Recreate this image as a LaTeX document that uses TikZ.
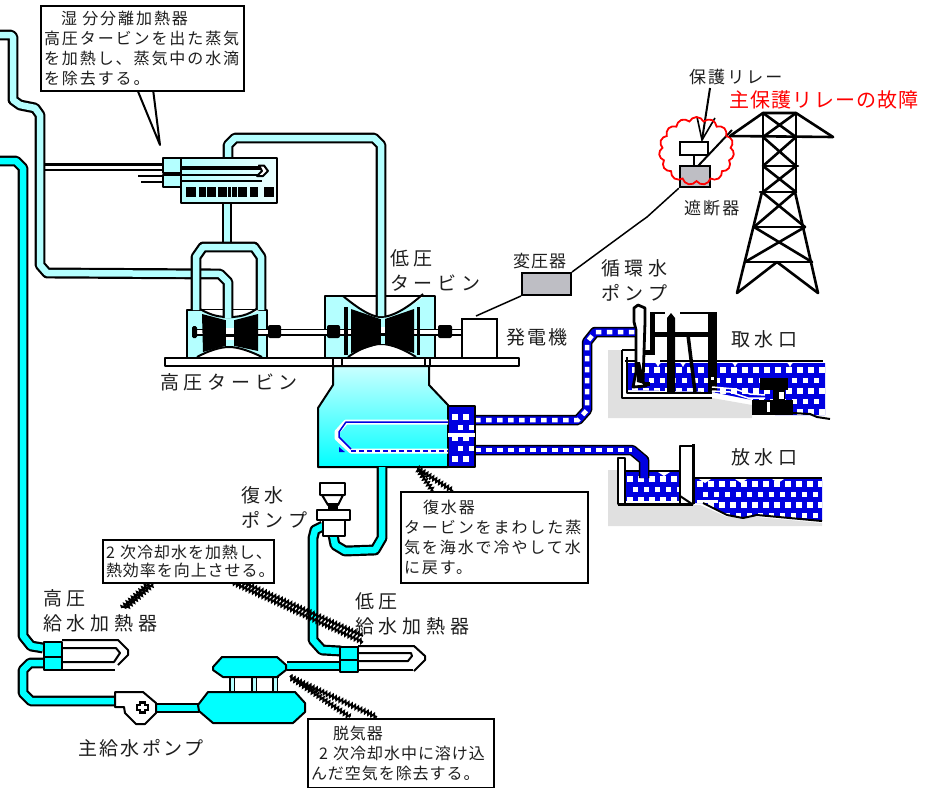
\documentclass[tikz,border=0pt]{standalone}
\usepackage{fontspec}
\usetikzlibrary{shapes.symbols,decorations.pathmorphing}
\newfontfamily\jpW[LetterSpace=25]{Noto Sans CJK JP}
\newfontfamily\jpM[LetterSpace=12]{Noto Sans CJK JP}
\newfontfamily\jpN[LetterSpace=6]{Noto Sans CJK JP}
\definecolor{lightc}{HTML}{B4FFFF}
\definecolor{cyanc}{HTML}{00FFFF}
\definecolor{seab}{HTML}{0000E0}
\definecolor{txtc}{HTML}{1E1E1E}
\definecolor{ground}{HTML}{E0E0E0}
\definecolor{grayb}{HTML}{BEBEC4}
\newcommand{\sqgrid}[4]{%
 \foreach \j in {0,...,#4}{\foreach \i in {0,...,#3}{%
  \pgfmathsetmacro\xx{#1+11*\i+5.5*mod(\j,2)}%
  \pgfmathsetmacro\yy{#2+10.5*\j}%
  \fill[white] (\xx,\yy) rectangle ++(5.5,5.5);}}}
\tikzset{
 x=1pt,y=-1pt,
 pipeL/.style={draw=black,line width=2.2,double=lightc,double distance=6.5,line join=round},
 pipeC/.style={draw=black,line width=2.2,double=cyanc,double distance=6.5,line join=round},
 thinL/.style={draw=black,line width=2.2,double=white,double distance=3,line join=round},
 seaO/.style={draw=black,line width=10.5,line join=round},
 seaI/.style={draw=seab,line width=7.5,line join=round},
 seaD/.style={draw=white,line width=4.5,dash pattern=on 5.5pt off 5.5pt},
 edge/.style={draw=black,line width=2,line join=round},
 thin2/.style={draw=black,line width=1.5},
 lblW/.style={inner sep=0,anchor=west,text=txtc,align=left,font=\jpW\fontsize{19}{25}\selectfont},
 lblM/.style={inner sep=0,anchor=west,text=txtc,align=left,font=\jpM\fontsize{19}{25}\selectfont},
 lblS/.style={inner sep=0,anchor=west,text=txtc,align=left,font=\jpM\fontsize{17}{20}\selectfont},
 callout/.style={draw=black,line width=2,fill=white,anchor=north west,inner xsep=3,inner ysep=5,align=left,text=txtc,font=\jpM\fontsize{16}{20}\selectfont},
 jag/.style={draw=black,line width=1.8,decorate,decoration={zigzag,segment length=3.5,amplitude=1.8}},
 blade/.style={fill=black},
}
\begin{document}
\begin{tikzpicture}
\useasboundingbox (0,0) rectangle (941,787);
%--- ground
\fill[ground] (608,350) -- (622,350) -- (622,398) -- (712,398) -- (752,405) -- (752,418) -- (608,418) -- cycle;
\fill[ground] (608,470) -- (620,470) -- (620,505) -- (700,505) -- (727,517) -- (757,517) -- (822,523) -- (822,526) -- (608,526) -- cycle;
%--- intake water
\begin{scope}
 \clip (628,363) -- (825,363) -- (825,415) -- (775,415) -- (752,400) -- (712,392) -- (628,390) -- cycle;
 \fill[seab] (620,355) rectangle (830,420);
 \sqgrid{632}{367}{18}{4}
\end{scope}
%--- outlet water
\begin{scope}
 \clip (625,471) -- (680,471) -- (680,500) -- (625,500) -- cycle;
 \fill[seab] (620,465) rectangle (685,505);
 \sqgrid{627}{476}{5}{2}
\end{scope}
\begin{scope}
 \clip (695,479) -- (822,479) -- (822,521) -- (757,515) -- (743,518) -- (727,515) -- (703,503) -- (695,503) -- cycle;
 \fill[seab] (690,475) rectangle (825,525);
 \sqgrid{697}{481}{12}{3}
\end{scope}
%--- intake structure
\draw[edge] (622,350) -- (645,350);
\draw[edge] (622,350) -- (622,398) -- (712,398);
\draw[edge] (627,357) -- (627,393) -- (712,393);
\draw[edge] (625,361) -- (645,361) (660,361) -- (823,361);
\foreach \w in {658,683,735,790}{\fill[white] (\w-6,362) .. controls (\w-2,363) .. (\w,367) .. controls (\w+2,363) .. (\w+6,362) -- cycle;}
\draw[edge,line width=2.8,fill=white] (634,308) -- (638,305) -- (645,308) -- (645,322) -- (643,382) -- (646,386) -- (633,387) -- (636,372) -- (636,330) -- (634,322) -- cycle;
\fill[black] (636,362) -- (640,362) -- (645,384) -- (637,382) -- cycle;
\fill[black] (644,382) rectangle (650,386);
\fill[black] (650,312) rectangle (655,355);
\fill[black] (644,350) rectangle (655,355);
\draw[edge,line width=2.5] (655,313) -- (665,313) (680,313) -- (708,313);
\fill[black] (655,332) rectangle (708,337);
\fill[black] (667,318) -- (671,313) -- (675,318) -- (675,392) -- (667,392) -- cycle;
\fill[black] (708,312) rectangle (717,392);
\fill[white] (711,377) rectangle (714,380);
\draw[line width=3.5] (688,335) -- (695,392);
%--- intake head
\fill[black] (760,378) rectangle (788,390);
\fill[black] (773,390) rectangle (785,400);
\fill[black] (752,400) rectangle (793,415);
\fill[white] (779,392) rectangle (784,399);
\fill[white] (767,402) rectangle (770,412);
\draw[white,line width=1.5] (712,387) -- (735,389) -- (750,394) -- (765,395);
\draw[white,line width=1.5] (712,391) -- (730,392) -- (748,398) -- (765,398);
\draw[edge] (793,413) -- (810,414) -- (817,417) -- (830,419);
%--- outlet structure
\draw[edge] (625,471) -- (680,471);
\draw[edge,fill=white] (618,458) rectangle (625,504);
\draw[edge,line width=3] (618,504) -- (693,504);
\draw[edge,fill=white] (680,446) rectangle (693,504);
\draw[black,line width=3] (693,444) -- (693,504);
\draw[edge] (680,496) -- (692,504);
\draw[edge] (695,478) -- (822,478);
\foreach \w/\v in {664/472,705/479,741/479,778/479}{\fill[white] (\w-6,\v) -- (\w,\v+4) -- (\w+6,\v) -- cycle;}
\fill[white] (697,500) rectangle (718,503);
\draw[edge] (703,503) -- (727,515) -- (743,518) -- (757,515) -- (822,521);
%--- seawater pipes
\draw[seaO] (475,420) -- (578,420) -- (587,410) -- (587,342) -- (595,332) -- (635,332);
\draw[seaI] (475,420) -- (578,420) -- (587,410) -- (587,342) -- (595,332) -- (635,332);
\draw[seaD] (475,420) -- (578,420) -- (587,410) -- (587,342) -- (595,332) -- (635,332);
\draw[seaO] (475,450) -- (632,450) -- (644,460) -- (644,478);
\draw[seaI] (475,450) -- (632,450) -- (644,460) -- (644,478);
\draw[seaD] (475,450) -- (632,450);
%--- condenser
\draw[edge,top color=lightc!70!white,middle color=cyanc,bottom color=cyanc] (333,366) -- (333,385) -- (318,408) -- (318,467) -- (448,467) -- (448,405) -- (429,385) -- (429,366) -- cycle;
\begin{scope}
 \clip (448,406) rectangle (475,467);
 \fill[seab] (448,406) rectangle (475,467);
 \sqgrid{452}{414}{2}{4}
\end{scope}
\draw[edge] (448,406) rectangle (475,467);
\fill[white] (448,433) rectangle (475,437);
\draw[white,line width=5,line join=round] (448,422) -- (346,422) -- (337,432) -- (337,438) -- (351,451) -- (448,451);
\draw[seab,line width=1.5,line join=round] (448,422) -- (346,422) -- (339,432) -- (339,437) -- (351,449);
\draw[seab,line width=1.8,dash pattern=on 5pt off 3pt] (351,451) -- (448,451);
\fill[seab] (339,447) -- (345,452) -- (339,452) -- cycle;
%--- HP turbine
\draw[edge,fill=lightc] (187,310) rectangle (267,358);
\fill[white] (200,310) .. controls (212,316) and (220,317) .. (229,317) .. controls (238,317) and (248,316) .. (259,310) -- cycle;
\fill[white] (197,357) .. controls (208,351) and (220,347) .. (229,347) .. controls (238,347) and (250,351) .. (262,357) -- cycle;
\draw[black,line width=2] (200,309) .. controls (212,316) and (220,317) .. (229,317) .. controls (238,317) and (248,316) .. (259,307);
\draw[black,line width=2] (197,357) .. controls (208,351) and (220,347) .. (229,347) .. controls (238,347) and (250,351) .. (262,357);
%--- LP turbine
\draw[edge,fill=lightc] (325,296) rectangle (435,358);
\fill[white] (343,297) .. controls (360,310) and (372,317) .. (381,317) .. controls (392,317) and (408,308) .. (423,297) -- cycle;
\fill[white] (348,357) .. controls (358,350) and (370,344) .. (381,344) .. controls (392,344) and (405,350) .. (416,357) -- cycle;
\draw[black,line width=2] (343,296) .. controls (360,310) and (372,317) .. (381,317) .. controls (392,317) and (408,308) .. (423,294);
\draw[black,line width=2] (348,357) .. controls (358,350) and (370,344) .. (381,344) .. controls (392,344) and (405,350) .. (416,357);
%--- shaft
\draw[black,line width=7] (192,332) -- (461,332);
\draw[white,line width=4] (192,332) -- (461,332);
\fill[black,rounded corners=1.5] (192,326) rectangle (197,338);
\fill[black,rounded corners=2] (268,325) rectangle (281,338);
\fill[black,rounded corners=2] (327,325) rectangle (340,338);
\fill[black,rounded corners=2] (438,325) rectangle (452,338);
\fill[black] (344,307) rectangle (348,355);
\fill[black] (417,307) rectangle (420,355);
%--- blades
\fill[blade] (202,314) -- (225,320) -- (225,346) -- (203,352) -- cycle;
\fill[blade] (235,320) -- (258,314) -- (258,351) -- (235,346) -- cycle;
\fill[lightc] (225,320) rectangle (235,346);
\fill[white] (226,328) rectangle (234,334);
\fill[blade] (225,334) rectangle (235,337);
\fill[white] (226,337) rectangle (234,340);
\draw[black,line width=1] (225.5,320) -- (225.5,346) (234.5,320) -- (234.5,346);
\fill[blade] (351,309) -- (380,319) -- (380,344) -- (351,353) -- cycle;
\fill[blade] (385,319) -- (414,309) -- (414,353) -- (385,344) -- cycle;
\fill[lightc] (380,320) rectangle (385,344);
\fill[white] (380,327) rectangle (386,333);
\fill[blade] (380,333) rectangle (386,336);
\draw[black,line width=1] (380,319) -- (380,344) (385.5,319) -- (385.5,344);
%--- foundation
\draw[edge,line width=2.5,fill=white] (165,358) -- (333,358) -- (333,366) -- (165,366) -- cycle;
\draw[edge,line width=2.5,fill=white] (342,358) rectangle (425,366);
\draw[edge,line width=2.5,fill=white] (519,358) -- (430,358) -- (430,366) -- (519,366) -- cycle;
%--- steam pipes
\draw[thinL] (44,167) -- (163,167);
\draw[pipeL] (0,35) -- (11,35) -- (13,37) -- (13,100) -- (20,105) -- (35,108) -- (40,115) -- (40,265) -- (47,273) -- (220,274) -- (228,282) -- (228,318);
\draw[pipeL] (228,158) -- (228,145) -- (235,138) -- (374,138) -- (381,145) -- (381,316);
\draw[pipeL] (227,203) -- (227,246);
\draw[pipeL] (196,310) -- (196,257) -- (203,247) -- (254,247) -- (261,257) -- (261,310);
\draw[pipeC] (0,161) -- (16,161) -- (23,168) -- (23,636) -- (31,646) -- (43,648);
%--- separator
\draw[edge,left color=lightc,right color=lightc!25!white] (181,158) rectangle (277,203);
\draw[edge,fill=lightc] (163,158) rectangle (181,173);
\draw[edge,fill=lightc] (163,175) rectangle (181,187);
\draw[thin2] (138,176) -- (163,176) (141,182) -- (163,182);
\fill[black] (181,165.5) rectangle (261,170);
\draw[black,line width=1.6] (181,175) -- (258,175) (181,181) -- (262,181);
\draw[black,line width=2,fill=white,line join=round] (259,165.5) -- (264,165.5) -- (268,171) -- (263,176) -- (257,176) -- (262,171) -- cycle;
\foreach \a/\b in {186/196,199/206,207/216,218/227,228/231,232/237,238/247,250/258,264/274}{\fill[black] (\a,186.5) rectangle (\b,197);}
%--- generator and transformer
\node[draw=black,line width=2,fill=white,minimum width=35,minimum height=39,inner sep=0] (gen) at (479.5,338) {};
\node[draw=black,line width=2,fill=grayb,minimum width=49,minimum height=22,inner sep=0] (trafo) at (546.5,284) {};
\node[draw=black,line width=2.5,fill=grayb,minimum width=30,minimum height=21,inner sep=0] (breaker) at (695,176.5) {};
\node[draw=black,line width=2.5,fill=white,minimum width=28,minimum height=13,inner sep=0] (relay) at (694,148.5) {};
\coordinate (genT) at (476,316);
\draw[thin2] (genT) -- (trafo.south west);
\draw[thin2] (trafo.north east) -- (640,222) -- (647,217) -- (breaker.south west);
\draw[line width=2] (relay.south) -- (relay.south |- breaker.north);
\coordinate (arrowtail) at (710,88);
\coordinate (arrowhead) at (702,140);
\draw[line width=2] (arrowtail) -- (arrowhead);
\draw[line width=1.6] (697,117) -- (arrowhead) -- (715,118);
\draw[line width=2] (698,166) -- (732,130);
\node[cloud,cloud puffs=15,cloud puff arc=130,aspect=1.07,draw=red,line width=1.8,minimum width=75,minimum height=68,inner sep=0] (fault) at (696.5,151) {};
%--- tower
\begin{scope}[black,line width=2.6,line cap=round,line join=round]
 \draw (763,113) -- (796,113) (730,136) -- (833,137);
 \draw (763,113) -- (730,136) (796,113) -- (833,137);
 \draw (763,113) -- (763,192) (796,113) -- (796,192);
 \draw (763,166) -- (798,166) (760,192) -- (796,192);
 \draw (763,113) -- (796,137) (796,113) -- (763,137);
 \draw (763,137) -- (796,166) (796,137) -- (763,166);
 \draw (763,166) -- (796,192) (796,166) -- (763,192);
 \draw (762,192) -- (737,293) (795,192) -- (818,293);
 \draw (754,227) -- (805,227) (745,262) -- (812,262);
 \draw (762,192) -- (805,227) (795,192) -- (754,227);
 \draw (754,227) -- (812,262) (805,227) -- (745,262);
 \draw (777,262) -- (737,293) (777,262) -- (818,293);
\end{scope}
%--- condensate and feed pipes
\draw[pipeC] (382,467) -- (382,538) -- (375,550) -- (345,551) -- (335,545) -- (333,535);
\draw[pipeC] (323,526) -- (315,530) -- (313,538) -- (313,640) -- (322,650) -- (341,651);
\draw[pipeC] (287,666) -- (341,666);
\draw[pipeC] (44,663) -- (30,663) -- (23,670) -- (23,693) -- (31,701) -- (116,701);
\draw[pipeC] (155,708) -- (199,708);
%--- condensate pump
\draw[edge,fill=white] (320,483) rectangle (345,495);
\draw[edge,fill=white] (322,495) -- (343,495) -- (338,505) -- (328,505) -- cycle;
\fill[black] (328,503) rectangle (338,511);
\draw[edge,fill=white] (317,510) rectangle (350,520);
\draw[edge,fill=white] (323,520) rectangle (345,536);
%--- LP heater
\draw[edge] (358,646) -- (414,646) -- (425,656) -- (425,660) -- (414,671);
\draw[edge] (358,670) -- (413,670);
\draw[edge] (358,653) -- (411,653) -- (412,656) -- (408,661) -- (358,661);
\draw[edge,fill=cyanc] (340,647) rectangle (358,660);
\draw[edge,fill=cyanc] (340,660) rectangle (358,672);
%--- HP heater
\draw[edge] (62,640) -- (118,640) -- (128,650) -- (128,655) -- (118,665);
\draw[edge] (62,648) -- (116,648) -- (120,653) -- (114,662) -- (62,662);
\draw[edge] (62,670) -- (115,670);
\draw[edge,fill=cyanc] (44,642) rectangle (62,657);
\draw[edge,fill=cyanc] (44,657) rectangle (62,670);
%--- feed pump
\draw[edge,fill=white] (115,692) -- (143,692) -- (156,703) -- (156,713) -- (145,724) -- (136,724) -- (125,713) -- (124,707) -- (115,707) -- cycle;
\draw[black,line width=2.2,fill=white] (137,705) -- (140,705) -- (140,702.5) -- (145,702.5) -- (145,705) -- (148,705) -- (148,710) -- (145,710) -- (145,712.5) -- (140,712.5) -- (140,710) -- (137,710) -- cycle;
%--- deaerator
\foreach \xx in {232,254,275}{\draw[draw=black,line width=1.6,double=lightc,double distance=3] (\xx,677) -- (\xx,692);}
\draw[edge] (223,677) -- (279,677);
\draw[edge,fill=cyanc] (198,705) -- (208,692) -- (295,692) -- (305,703) -- (305,712) -- (293,723) -- (213,723) -- (199,711) -- cycle;
\draw[edge,fill=cyanc] (213,667) -- (222,657) -- (277,657) -- (286,665) -- (286,670) -- (277,677) -- (223,677) -- (213,670) -- cycle;
%--- callouts
\draw[jag] (417,468) -- (453,491);
\draw[jag] (417,468) -- (433,491);
\draw[jag] (122,608) -- (148,584);
\draw[jag] (126,608) -- (153,584);
\draw[jag] (232,582) -- (363,642);
\draw[jag] (242,582) -- (363,636);
\draw[jag] (290,677) -- (350,717);
\draw[jag] (290,677) -- (377,717);
\draw[edge,fill=white] (137,89) -- (160,145) -- (153,89);
\node[callout,text width=197,minimum height=84] (csep) at (40,5) {\hspace*{17pt}湿 分分離加熱器\\高圧タービンを出た蒸気\\を加熱し、蒸気中の水滴\\を除去する。};
\node[callout,text width=181,minimum height=91] (ccond) at (400,491) {\hspace*{19pt}復水器\\タービンをまわした蒸\\気を海水で冷やして水\\に戻す。};
\node[callout,text width=165,minimum height=43,inner ysep=3,font=\jpN\fontsize{16}{18}\selectfont] (cheat) at (102,539) {2 次冷却水を加熱し、\\熱効率を向上させる。};
\node[callout,text width=180,minimum height=69,inner ysep=4,font=\jpN\fontsize{16}{20}\selectfont] (cdea) at (307,718) {\hspace*{22pt}脱気器\\\hspace*{8pt}2 次冷却水中に溶け込\\んだ空気を除去する。};
%--- labels
\node[lblW] (lhp) at (160,382) {高圧タービン};
\node[lblW] (llp) at (390,270) {低圧\\タービン};
\node[lblM] (lgen) at (506,337) {発電機};
\node[inner sep=0,anchor=west,text=txtc,font=\jpN\fontsize{17}{20}\selectfont] (ltr) at (513,261) {変圧器};
\node[lblW] (lcw) at (601,280) {循環水\\ポンプ};
\node[lblW] (lin) at (731,339) {取水口};
\node[lblW] (lout) at (731,457) {放水口};
\node[lblW] (lcp) at (241,507) {復水\\ポンプ};
\node[lblW] (lhh) at (43,611) {高圧\\給水加熱器};
\node[lblW] (llh) at (355,614) {低圧\\給水加熱器};
\node[lblM] (lfp) at (78,748) {主給水ポンプ};
\node[lblS] (lrel) at (689,77) {保護リレー};
\node[lblS] (lbr) at (684,208) {遮断器};
\node[inner sep=0,anchor=west,text=red,font=\jpN\fontsize{20}{24}\selectfont] (lfault) at (729,100) {主保護リレーの故障};
\end{tikzpicture}
\end{document}
